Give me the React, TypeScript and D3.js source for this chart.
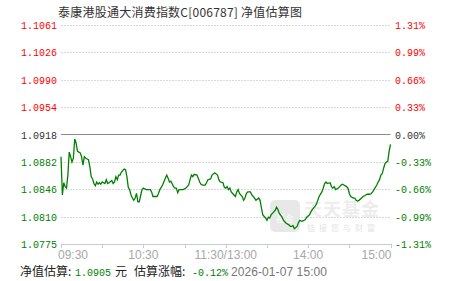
import React from "react";
import * as d3 from "d3";

const title = "泰康港股通大消费指数C[006787] 净值估算图";
const leftTicks = ["1.1061", "1.1026", "1.0990", "1.0954", "1.0918", "1.0882", "1.0846", "1.0810", "1.0775"];
const rightTicks = ["1.31%", "0.99%", "0.66%", "0.33%", "0.00%", "-0.33%", "-0.66%", "-0.99%", "-1.31%"];
const timeLabels = ["09:30", "10:30", "11:30/13:00", "14:00", "15:00"];
const timeLabelMinutes = [0, 60, 120, 180, 240];
const tickMinutes = [0, 30, 60, 90, 120, 150, 180, 210, 240];
const baseNav = 1.0918;

const minutes = [
  0, 1, 2, 3, 4, 5, 6, 7, 8, 9, 10, 11, 12, 13, 14, 15, 16, 17, 18, 19, 20, 21, 22, 23, 24, 25, 26, 27, 28, 29, 30,
  32, 33, 34, 35, 37, 38, 39, 40, 41, 42, 43, 44, 46, 47, 48, 49, 50, 51, 52, 53, 54, 55, 56, 57, 58, 59, 60,
  62, 65, 66, 67, 70, 71, 72, 74, 76, 77, 78, 79, 80, 82, 83, 84, 85, 86, 89, 91, 93, 94, 95, 96, 97, 99, 100,
  101, 102, 103, 105, 106, 107, 109, 110, 112, 114, 115, 116, 118, 119, 120, 121, 122, 123, 124, 126, 127, 128,
  129, 130, 132, 133, 134, 135, 136, 138, 139, 140, 141, 142, 144, 145, 146, 147, 149, 150, 151, 152, 153, 155,
  156, 157, 158, 159, 161, 162, 163, 164, 166, 167, 168, 169, 170, 172, 173, 174, 175, 176, 178, 179, 181, 182,
  183, 185, 186, 187, 188, 190, 191, 192, 193, 194, 196, 197, 198, 199, 200, 202, 203, 204, 205, 206, 208, 209,
  210, 211, 213, 214, 215, 216, 217, 219, 220, 221, 222, 223, 225, 226, 227, 228, 230, 231, 232, 233, 234, 235,
  236, 237, 238, 239, 240,
];
const navValues = [
  1.0889, 1.0839, 1.0855, 1.085, 1.0848, 1.0865, 1.0895, 1.0889, 1.0882, 1.0887, 1.0912, 1.0907, 1.0896, 1.0895,
  1.0894, 1.0889, 1.0878, 1.0889, 1.0887, 1.0886, 1.0885, 1.0876, 1.0863, 1.086, 1.0854, 1.0851, 1.0856, 1.0853,
  1.0855, 1.0853, 1.0856,
  1.0854, 1.0859, 1.0854, 1.0855, 1.0858, 1.0854, 1.0856, 1.0863, 1.0859, 1.0865, 1.0865, 1.0869, 1.0873, 1.0872,
  1.0863, 1.0849, 1.0846, 1.0839, 1.0835, 1.0832, 1.0835, 1.0841, 1.083, 1.083, 1.0838, 1.0846, 1.0848,
  1.0846, 1.0846, 1.0843, 1.0837, 1.0837, 1.0841, 1.0846, 1.0852, 1.0861, 1.0865, 1.0861, 1.0856, 1.0857, 1.085,
  1.0848, 1.0848, 1.0842, 1.0846, 1.0846, 1.0848, 1.0852, 1.0859, 1.0865, 1.0863, 1.0866, 1.0865, 1.0861,
  1.0856, 1.0853, 1.0852, 1.0852, 1.0855, 1.0859, 1.086, 1.0865, 1.0868, 1.0865, 1.0859, 1.0856, 1.0855, 1.0849,
  1.0848, 1.085, 1.0846, 1.0848, 1.0843, 1.0839, 1.0837, 1.0843,
  1.0846, 1.0841, 1.0837, 1.0832, 1.0835, 1.0841, 1.0843, 1.0843, 1.0839, 1.0837, 1.0835, 1.0832, 1.0835, 1.0832,
  1.0822, 1.0813, 1.0809, 1.0806, 1.081, 1.0809, 1.0813, 1.0817,
  1.0819, 1.0823, 1.082, 1.0815, 1.081, 1.0806, 1.0804, 1.0802, 1.08, 1.0798, 1.0798, 1.0799, 1.0795, 1.0798,
  1.0803, 1.0806, 1.0805, 1.0805, 1.0807, 1.081, 1.0813, 1.0817,
  1.082, 1.0824, 1.0827, 1.0832, 1.0837, 1.0843, 1.0848, 1.0854, 1.0856, 1.0854, 1.0855, 1.085, 1.0848, 1.085,
  1.0846, 1.0848, 1.085, 1.0852, 1.0853, 1.0852, 1.085, 1.0848,
  1.0841, 1.0837, 1.0835, 1.0835, 1.0832, 1.0831, 1.0832, 1.0835, 1.0837, 1.0838, 1.0839, 1.084, 1.084, 1.0841,
  1.0843, 1.0846, 1.0852, 1.0856, 1.0859, 1.0865, 1.0867, 1.0874,
  1.088, 1.0882, 1.0883, 1.0896, 1.0905,
];

const navLabel = "1.0905";
const changeLabel = "-0.12%";
const dateLabel = "2026-01-07 15:00";

const W = 451;
const H = 281;
const RED = "#ff0000";
const GREEN = "#008000";
const GRAY = "#333333";
const mono = "'Liberation Mono', 'DejaVu Sans Mono', monospace";
const cjk = "'Noto Sans CJK SC', sans-serif";
const sans = "'Liberation Sans', Arial, sans-serif";

function MonoText(props: { x: number; y: number; text: string; fill: string; anchor?: string }) {
  const { x, y, text, fill, anchor } = props;
  return (
    <text
      x={x}
      y={y}
      dy="0.35em"
      textAnchor={anchor || "start"}
      fontFamily={mono}
      fontSize={11}
      fill={fill}
      textLength={text.length * 6}
      lengthAdjust="spacingAndGlyphs"
    >
      {text}
    </text>
  );
}

export default function App() {
  const x = d3.scaleLinear().domain([0, 240]).range([61, 390.5]);
  const y = d3.scaleLinear().domain([1.0775, 1.1061]).range([244, 25]);
  const tickY = (i: number) =>
    y(+leftTicks[0]) + (i * (y(+leftTicks[leftTicks.length - 1]) - y(+leftTicks[0]))) / (leftTicks.length - 1);
  const pts: [number, number][] = minutes.map((m, i) => [m, navValues[i]]);
  const line = d3
    .line<[number, number]>()
    .x((d) => x(d[0]))
    .y((d) => y(d[1]));
  const colorFor = (i: number) => (i < 4 ? RED : i === 4 ? GRAY : GREEN);
  const x0 = x(0);
  const x1 = x(240);
  const fy = 272;
  return (
    <svg width={W} height={H} style={{ position: "absolute", left: 0, top: 0, background: "#fff" }}>
      <rect x={0} y={0} width={W} height={H} fill="#fff" />
      <text x={58} y={17} fontFamily={cjk} fontSize={12} fill={GRAY} textLength={244} lengthAdjust="spacing">
        {title}
      </text>
      {leftTicks.map((t, i) => {
        const yy = Math.round(tickY(i)) + 0.5;
        return (
          <g key={t}>
            {i !== 4 && i !== leftTicks.length - 1 && (
              <line x1={x0} x2={x1} y1={yy} y2={yy} stroke="#d9d9d9" strokeDasharray="2,1" />
            )}
            <MonoText x={57} y={yy} text={t} fill={colorFor(i)} anchor="end" />
            <MonoText x={395} y={yy} text={rightTicks[i]} fill={colorFor(i)} />
          </g>
        );
      })}
      {/* watermark */}
      <g opacity={0.9}>
        <rect x={270} y={200} width={30} height={32} rx={5} fill="#e6e6e6" />
        <text x={285} y={222} textAnchor="middle" fontFamily={cjk} fontSize={9} fill="#f5f5f5" fontWeight="bold">
          基金
        </text>
        <text x={304} y={216} fontFamily={cjk} fontSize={18} fontWeight="bold" fill="#ececec" letterSpacing={1}>
          天天基金
        </text>
        <text x={307} y={231} fontFamily={cjk} fontSize={8} fill="#e3e3e3" letterSpacing={4}>
          链接您与财富
        </text>
      </g>
      {/* base line */}
      <line
        x1={x0}
        x2={x1}
        y1={Math.round(y(baseNav)) + 0.5}
        y2={Math.round(y(baseNav)) + 0.5}
        stroke="#8c8c8c"
        strokeWidth={1}
      />
      {/* bottom axis */}
      <line x1={x0} x2={x(240) + 1} y1={244.5} y2={244.5} stroke="#c3ccd8" />
      {tickMinutes.map((m) => (
        <line key={m} x1={Math.round(x(m)) + 0.5} x2={Math.round(x(m)) + 0.5} y1={244} y2={248} stroke="#c3ccd8" />
      ))}
      {timeLabels.map((t, i) => {
        const m = timeLabelMinutes[i];
        const anchor = i === 0 ? "start" : i === timeLabels.length - 1 ? "end" : "middle";
        const xx = i === 0 ? x(m) - 3 : i === timeLabels.length - 1 ? x(m) + 1 : x(m);
        return (
          <text key={t} x={xx} y={259} textAnchor={anchor} fontFamily={sans} fontSize={12} fill="#a8a8a8">
            {t}
          </text>
        );
      })}
      <path d={line(pts) || ""} fill="none" stroke={GREEN} strokeWidth={1.3} />
      {/* footer */}
      <text x={20} y={fy} dy="0.35em" fontFamily={cjk} fontSize={12} fill="#222">
        净值估算:
      </text>
      <MonoText x={75} y={fy} text={navLabel} fill={GREEN} />
      <text x={115} y={fy} dy="0.35em" fontFamily={cjk} fontSize={12} fill="#222">
        元
      </text>
      <text x={134} y={fy} dy="0.35em" fontFamily={cjk} fontSize={12} fill="#222">
        估算涨幅:
      </text>
      <MonoText x={192} y={fy} text={changeLabel} fill={GREEN} />
      <text
        x={231}
        y={fy}
        dy="0.35em"
        fontFamily={sans}
        fontSize={12}
        fill="#777"
        textLength={96}
        lengthAdjust="spacing"
      >
        {dateLabel}
      </text>
    </svg>
  );
}
